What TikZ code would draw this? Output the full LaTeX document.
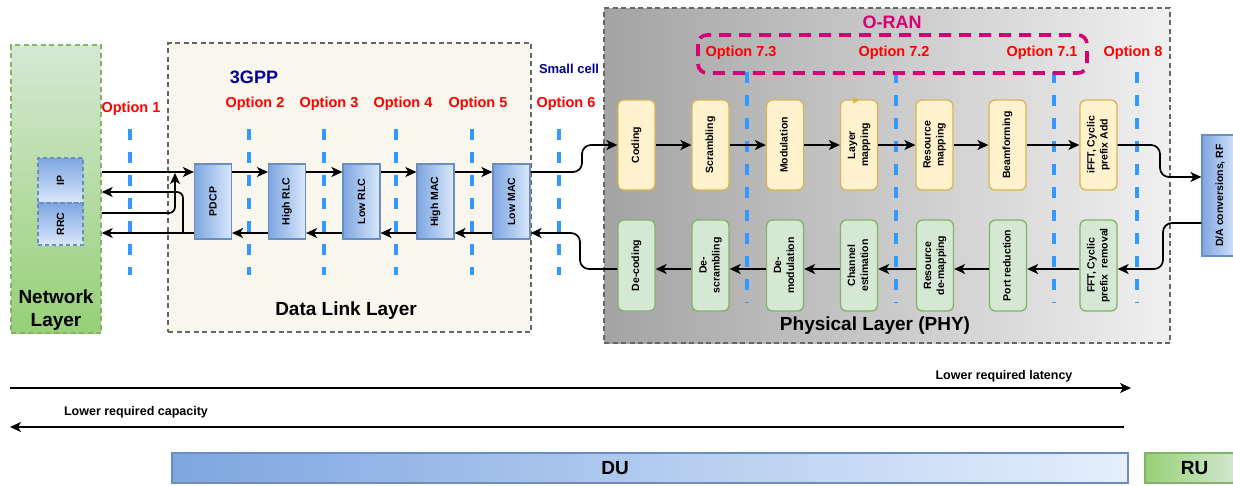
\documentclass[tikz,border=0pt]{standalone}
\usepackage{fontspec}
\setmainfont{Liberation Sans}
\usetikzlibrary{arrows.meta}
\definecolor{optred}{HTML}{FF0000}
\definecolor{navy}{HTML}{000099}
\definecolor{oranmag}{HTML}{D80073}
\definecolor{splitblue}{HTML}{3399FF}
\definecolor{bluedraw}{HTML}{6C8EBF}
\definecolor{bluedark}{HTML}{7EA6E0}
\definecolor{bluelight}{HTML}{DAE8FC}
\definecolor{ylwfill}{HTML}{FFF2CC}
\definecolor{ylwdraw}{HTML}{D6B656}
\definecolor{grnfill}{HTML}{D5E8D4}
\definecolor{grndraw}{HTML}{82B366}
\definecolor{grndark}{HTML}{97D077}
\definecolor{dllfill}{HTML}{F9F7ED}
\definecolor{frame}{HTML}{666666}
\newcommand{\vtext}[1]{\rotatebox{90}{\begin{tabular}{@{}c@{}}#1\end{tabular}}}
\tikzset{
  arr/.style={line width=1.7pt, -{Stealth[length=11pt,width=10pt,inset=3pt]}},
  opt/.style={text=optred, font=\fontsize{14.5}{16}\selectfont\bfseries},
  split/.style={draw=splitblue, line width=3.6pt, dash pattern=on 11pt off 12pt},
  container/.style={draw=frame, line width=1.4pt, dash pattern=on 5pt off 3.5pt, inner sep=0pt},
  bluebox/.style={draw=bluedraw, line width=1.2pt, left color=bluedark, right color=bluelight, inner sep=0pt, minimum width=37pt, minimum height=75pt, font=\fontsize{10.5}{13}\selectfont\bfseries},
  ylwbox/.style={draw=ylwdraw, fill=ylwfill, rounded corners=6pt, line width=1.3pt, minimum width=37pt, minimum height=90pt, inner sep=0pt, font=\fontsize{10.5}{13}\selectfont\bfseries},
  grnbox/.style={draw=grndraw, fill=grnfill, rounded corners=6pt, line width=1.3pt, minimum width=37pt, minimum height=91pt, inner sep=0pt, font=\fontsize{10.5}{13}\selectfont\bfseries},
  title/.style={font=\fontsize{19}{23}\selectfont\bfseries, align=center},
  note/.style={font=\fontsize{12.5}{15}\selectfont\bfseries}
}
\begin{document}
\begin{tikzpicture}[x=1pt,y=-1pt]
\useasboundingbox (0,0) rectangle (1233,485);

% containers
\node[container, left color=black!36, right color=black!6, minimum width=566pt, minimum height=335pt] (phy) at (887,175.5) {};
\node[container, fill=dllfill, minimum width=363pt, minimum height=289pt] (dll) at (349.5,187.5) {};
\node[draw=grndraw, line width=1.4pt, dash pattern=on 5pt off 3.5pt, top color=grnfill, bottom color=grndark, inner sep=0pt, minimum width=90pt, minimum height=288pt] (net) at (56,189) {};

% split lines
\foreach \xx in {130,249,324,396,472,559}{\draw[split] (\xx,129) -- (\xx,275);}
\foreach \xx in {747,896,1054,1137}{\draw[split] (\xx,72) -- (\xx,303);}

% O-RAN box
\draw[draw=oranmag, line width=3.6pt, dash pattern=on 12pt off 8pt, rounded corners=9pt] (698,35) rectangle (1087,73);

% network layer inner boxes
\node[bluebox, top color=bluedark, bottom color=bluelight, dash pattern=on 4pt off 3pt, minimum width=45pt, minimum height=45pt] (ip) at (60.5,180.5) {\rotatebox{90}{IP}};
\node[bluebox, top color=bluedark, bottom color=bluelight, dash pattern=on 4pt off 3pt, minimum width=45pt, minimum height=42pt] (rrc) at (60.5,224) {\rotatebox{90}{RRC}};

% data link boxes
\node[bluebox] (pdcp) at (213,201.5) {\rotatebox{90}{PDCP}};
\node[bluebox] (highrlc) at (287,201.5) {\rotatebox{90}{High RLC}};
\node[bluebox] (lowrlc) at (361.5,201.5) {\rotatebox{90}{Low RLC}};
\node[bluebox] (highmac) at (435.5,201.5) {\rotatebox{90}{High MAC}};
\node[bluebox] (lowmac) at (511.5,201.5) {\rotatebox{90}{Low MAC}};

% PHY top row
\node[ylwbox] (coding) at (636.5,145) {\vtext{Coding}};
\node[ylwbox] (scram) at (710.5,145) {\vtext{Scrambling}};
\node[ylwbox] (modu) at (785,145) {\vtext{Modulation}};
\node[ylwbox] (laymap) at (859,145) {\vtext{Layer\\mapping}};
\node[ylwbox] (resmap) at (934.5,145) {\vtext{Resource\\mapping}};
\node[ylwbox] (beam) at (1007.5,145) {\vtext{Beamforming}};
\node[ylwbox] (ifft) at (1098.5,145) {\vtext{iFFT, Cyclic\\prefix Add}};
\fill[ylwdraw] (853,96.5) -- (860,100) -- (853,103.5) -- cycle;

% PHY bottom row
\node[grnbox] (decod) at (636.5,265.5) {\vtext{De-coding}};
\node[grnbox] (descram) at (710.5,265.5) {\vtext{De-\\scrambling}};
\node[grnbox] (demod) at (785,265.5) {\vtext{De-\\modulation}};
\node[grnbox] (chest) at (859,265.5) {\vtext{Channel\\estimation}};
\node[grnbox] (resdemap) at (935,265.5) {\vtext{Resource\\de-mapping}};
\node[grnbox] (portred) at (1008,265.5) {\vtext{Port reduction}};
\node[grnbox] (fft) at (1098.5,265.5) {\vtext{FFT, Cyclic\\prefix\ \ removal}};

% D/A
\node[bluebox, minimum width=36pt, minimum height=121pt] (da) at (1220,195.5) {\rotatebox{90}{D/A conversions, RF}};

% reference heights
\coordinate (yt) at (0,172);
\coordinate (yb) at (0,233);
\coordinate (yb2) at (0,192);
\coordinate (yb3) at (0,213);
\coordinate (yg) at (0,269);
\coordinate (yda1) at (0,177);
\coordinate (yda2) at (0,223);
\coordinate (br) at (183,233);

% network <-> PDCP
\draw[arr] (net.east|-yt) -- (pdcp.west|-yt);
\draw[arr] (pdcp.west|-yb) -- (net.east|-yb);
\draw[arr, rounded corners=6pt] (br) -- (183,192) -- (net.east|-yb2);
\draw[arr, rounded corners=6pt] (net.east|-yb3) -- (175,213) -- (175,173);

% DLL chain
\foreach \a/\b in {pdcp/highrlc, highrlc/lowrlc, lowrlc/highmac, highmac/lowmac}{
  \draw[arr] (\a.east|-yt) -- (\b.west|-yt);
  \draw[arr] (\b.west|-yb) -- (\a.east|-yb);
}

% DLL <-> PHY
\draw[arr, rounded corners=9pt] (lowmac.east|-yt) -- (582,172) -- (582,145) -- (coding.west);
\draw[arr, rounded corners=9pt] (decod.west|-yg) -- (580,269) -- (580,233) -- (lowmac.east|-yb);

% PHY chains
\foreach \a/\b in {coding/scram, scram/modu, modu/laymap, laymap/resmap, resmap/beam, beam/ifft}{
  \draw[arr] (\a.east) -- (\b.west);
}
\foreach \a/\b in {fft/portred, portred/resdemap, resdemap/chest, chest/demod, demod/descram, descram/decod}{
  \draw[arr] (\a.west|-yg) -- (\b.east|-yg);
}
\draw[arr, rounded corners=9pt] (ifft.east) -- (1160,145) -- (1160,177) -- (da.west|-yda1);
\draw[arr, rounded corners=9pt] (da.west|-yda2) -- (1163,223) -- (1163,269) -- (fft.east|-yg);

% labels
\node[opt] (o1) at (131,109) {Option 1};
\node[opt] (o2) at (255,104) {Option 2};
\node[opt] (o3) at (329,104) {Option 3};
\node[opt] (o4) at (403,104) {Option 4};
\node[opt] (o5) at (478,104) {Option 5};
\node[opt] (o6) at (566,104) {Option 6};
\node[opt] (o73) at (741,53) {Option 7.3};
\node[opt] (o72) at (894,53) {Option 7.2};
\node[opt] (o71) at (1042,53) {Option 7.1};
\node[opt] (o8) at (1133,53) {Option 8};
\node[text=navy, font=\fontsize{18}{20}\selectfont\bfseries] (tgpp) at (254,77) {3GPP};
\node[text=navy, font=\fontsize{13}{15}\selectfont\bfseries] (sc) at (569,69) {Small cell};
\node[text=oranmag, font=\fontsize{18}{20}\selectfont\bfseries] (oran) at (892,22) {O-RAN};
\node[title] (netlbl) at (56,310) {Network\\Layer};
\node[title] (dlllbl) at (346,311) {Data Link Layer};
\node[title] (phylbl) at (875,326) {Physical Layer (PHY)};

% bottom
\coordinate (la0) at (10,388);
\coordinate (la1) at (1131,388);
\coordinate (ca0) at (1124,427);
\coordinate (ca1) at (10,427);
\draw[arr] (la0) -- (la1);
\draw[arr] (ca0) -- (ca1);
\node[note] (latlbl) at (1004,376) {Lower required latency};
\node[note] (caplbl) at (136,412) {Lower required capacity};
\node[draw=bluedraw, line width=1.2pt, left color=bluedark, right color=bluelight!70!white, minimum width=956pt, minimum height=30pt, inner sep=0pt,
  label={[font=\fontsize{19}{23}\selectfont\bfseries, xshift=-35pt]center:DU}] (du) at (650,468) {};
\node[draw=grndraw, line width=1.2pt, left color=grndark, right color=grnfill, minimum width=95pt, minimum height=30pt, inner sep=0pt,
  label={[font=\fontsize{19}{23}\selectfont\bfseries, xshift=2pt]center:RU}] (ru) at (1192.5,468) {};
\end{tikzpicture}
\end{document}
